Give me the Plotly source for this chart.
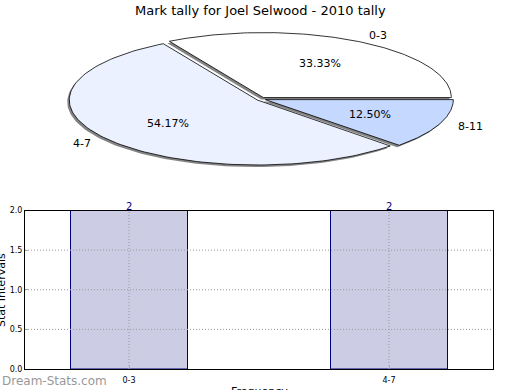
import numpy as np
import plotly.graph_objects as go

# ---- data ----
pie_labels = ["0-3", "4-7", "8-11"]
pie_values = [33.33, 54.17, 12.50]
pie_colors = ["#FFFFFF", "#EBF1FF", "#C5D8FF"]

bar_categories = ["0-3", "4-7"]
bar_values = [2, 2]
y_ticks = [0.0, 0.5, 1.0, 1.5, 2.0]

title = "Mark tally for Joel Selwood - 2010 tally"

W, H = 520, 390
cx, cy, rx, ry = 261.0, 99.0, 188.0, 65.0
explode = 0.025
font = "DejaVu Sans"

fig = go.Figure()

vals = np.array(pie_values, dtype=float)
frac = vals / vals.sum()
starts = np.concatenate([[0], np.cumsum(frac)[:-1]]) * 2 * np.pi
ends = np.cumsum(frac) * 2 * np.pi

def wedge(a0, a1, ox, oy):
    t = np.linspace(a0, a1, 120)
    xs = np.concatenate([[cx + ox], cx + ox + rx * np.cos(t), [cx + ox]])
    ys = np.concatenate([[cy + oy], cy + oy - ry * np.sin(t), [cy + oy]])
    return xs, ys

# shadows
for a0, a1 in zip(starts, ends):
    mid = (a0 + a1) / 2
    ox = explode * rx * np.cos(mid)
    oy = -explode * ry * np.sin(mid)
    xs, ys = wedge(a0, a1, ox - 2, oy + 2)
    fig.add_trace(go.Scatter(x=xs, y=ys, fill="toself", fillcolor="rgba(110,110,110,0.85)",
                             line=dict(width=0), mode="lines", hoverinfo="skip",
                             showlegend=False, xaxis="x", yaxis="y"))
# wedges
annotations = []
for lab, v, col, a0, a1 in zip(pie_labels, frac, pie_colors, starts, ends):
    mid = (a0 + a1) / 2
    ox = explode * rx * np.cos(mid)
    oy = -explode * ry * np.sin(mid)
    xs, ys = wedge(a0, a1, ox, oy)
    fig.add_trace(go.Scatter(x=xs, y=ys, fill="toself", fillcolor=col,
                             line=dict(color="black", width=0.8), mode="lines",
                             hoverinfo="skip", showlegend=False, xaxis="x", yaxis="y"))
    px = cx + ox + 0.6 * rx * np.cos(mid)
    py = cy + oy - 0.6 * ry * np.sin(mid)
    annotations.append(dict(x=px, y=py, xref="x", yref="y", text=f"{v*100:.2f}%",
                            showarrow=False, font=dict(family=font, size=11, color="black")))
    lx = cx + ox + 1.1 * rx * np.cos(mid)
    ly = cy + oy - 1.1 * ry * np.sin(mid)
    annotations.append(dict(x=lx, y=ly, xref="x", yref="y", text=lab, showarrow=False,
                            xanchor="left" if np.cos(mid) > 0 else "right",
                            font=dict(family=font, size=11, color="black")))

# bars
fig.add_trace(go.Bar(x=bar_categories, y=bar_values, width=0.45,
                     marker=dict(color="#CCCCE5", line=dict(color="#000080", width=1)),
                     showlegend=False, xaxis="x2", yaxis="y2"))
for c, v in zip(bar_categories, bar_values):
    annotations.append(dict(x=c, y=v, xref="x2", yref="y2", text=str(v), showarrow=False,
                            yanchor="bottom", yshift=-3,
                            font=dict(family=font, size=10, color="#000080")))

# dotted grid above bars
grid_line = dict(color="#999999", width=1, dash="1px,2px")
shapes = []
for t in y_ticks[1:-1]:
    shapes.append(dict(type="line", xref="x2 domain", yref="y2", x0=0, x1=1, y0=t, y1=t,
                       line=grid_line, layer="above"))
for c in bar_categories:
    shapes.append(dict(type="line", xref="x2", yref="y2 domain", x0=c, x1=c, y0=0, y1=1,
                       line=grid_line, layer="above"))

annotations.append(dict(x=W / 2, y=10, xref="x", yref="y", text=title, showarrow=False,
                        font=dict(family=font, size=13, color="black")))
annotations.append(dict(x=0, y=381, xref="x", yref="y", text="Dream-Stats.com", showarrow=False,
                        xanchor="left", font=dict(family=font, size=12, color="#999999")))
annotations.append(dict(x=259, y=383, xref="x", yref="y", text="Frequency", showarrow=False,
                        yanchor="top", font=dict(family=font, size=11, color="black")))
annotations.append(dict(x=1, y=290, xref="x", yref="y", text="Stat Intervals", showarrow=False,
                        textangle=-90, font=dict(family=font, size=11, color="black")))

fig.update_layout(
    width=W, height=H, margin=dict(l=0, r=0, t=0, b=0, autoexpand=False),
    paper_bgcolor="white", plot_bgcolor="rgba(0,0,0,0)",
    xaxis=dict(domain=[0, 1], range=[0, W], visible=False, fixedrange=True),
    yaxis=dict(domain=[0, 1], range=[H, 0], visible=False, fixedrange=True),
    xaxis2=dict(domain=[25 / W, 493 / W], range=[-0.4, 1.4], anchor="y2",
                showline=True, mirror=True, linecolor="black", linewidth=1,
                showgrid=False, ticks="inside", ticklen=3, tickcolor="#AAAAAA",
                ticklabelstandoff=3, automargin=False,
                tickfont=dict(family=font, size=8, color="black"), zeroline=False),
    yaxis2=dict(domain=[(H - 369) / H, (H - 210.5) / H], range=[0, 2], anchor="x2",
                tickvals=y_ticks, ticktext=[f"{t:.1f}" for t in y_ticks],
                showline=True, mirror=True, linecolor="black", linewidth=1,
                showgrid=False, ticks="inside", ticklen=3, tickcolor="#AAAAAA",
                automargin=False,
                tickfont=dict(family=font, size=8, color="black"), zeroline=False),
    annotations=annotations,
    shapes=shapes,
)
fig.write_html("out.html", post_script="document.body.style.margin='0px';",
               config={"displayModeBar": False})
